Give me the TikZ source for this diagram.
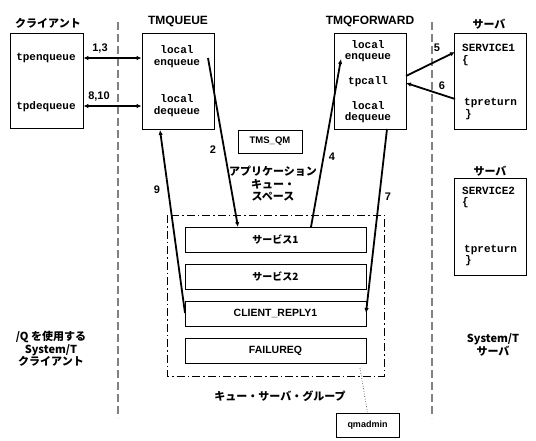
\documentclass[tikz,border=0pt]{standalone}
\usepackage{fontspec}
\setmainfont{Liberation Sans}
\newfontfamily\jpfont{Noto Sans CJK JP}
\newfontfamily\codefont{Liberation Mono}
\usetikzlibrary{arrows.meta}
\begin{document}
\begin{tikzpicture}[x=1pt,y=-1pt,
  box/.style={draw, line width=0.8pt, inner sep=0pt},
  arr/.style={line width=1.8pt, -{Latex[length=5pt,width=4.5pt]}},
  dblarr/.style={line width=1.5pt, {Latex[length=5pt,width=4.5pt]}-{Latex[length=5pt,width=4.5pt]}},
  head/.style={font=\fontsize{12}{14}\selectfont\bfseries, inner sep=0pt},
  jp/.style={font=\jpfont\bfseries\fontsize{11}{12.5}\selectfont, inner sep=0pt, align=center},
  qlab/.style={font=\jpfont\bfseries\fontsize{10}{12}\selectfont, inner sep=0pt},
  qtxt/.style={font=\fontsize{10.5}{12}\selectfont\bfseries, inner sep=0pt},
  code/.style={font=\codefont\bfseries\fontsize{11}{11.5}\selectfont, inner sep=0pt, align=center},
  num/.style={font=\fontsize{11}{12}\selectfont\bfseries, inner sep=0pt},
  sep/.style={gray, line width=1.5pt, dash pattern=on 8pt off 4pt},
  grp/.style={draw, line width=0.7pt, dash pattern=on 8pt off 3pt on 1.5pt off 3pt}
]
\useasboundingbox (0,0) rectangle (536,440);

% separators
\draw[sep] (118,22) -- (118,418);
\draw[sep] (432,22) -- (432,418);

% headers
\node[jp] (hcl) at (48,23) {クライアント};
\node[head] (htmq) at (178,21) {TMQUEUE};
\node[head] (htmf) at (370,21) {TMQFORWARD};
\node[jp] (hsv1) at (489,24) {サーバ};
\node[jp] (hsv2) at (490,171) {サーバ};

% boxes
\node[box, minimum width=73pt, minimum height=95pt] (client) at (46.5,80.5) {};
\node[box, minimum width=72pt, minimum height=96pt] (tmq) at (178,81) {};
\node[box, minimum width=72pt, minimum height=96pt] (tmf) at (370,81) {};
\node[box, minimum width=72pt, minimum height=96pt] (sv1) at (490,81) {};
\node[box, minimum width=72pt, minimum height=97pt] (sv2) at (490,226.5) {};
\node[box, minimum width=64pt, minimum height=23pt, font=\fontsize{9.5}{11}\selectfont\bfseries] (tmsqm) at (270,141.5) {TMS\_QM};

% client texts
\node[code] (tpenq) at (46,57.5) {tpenqueue};
\node[code] (tpdeq) at (46,106.5) {tpdequeue};

% tmqueue texts
\node[code] (tmqenq) at (177,56.5) {local\\enqueue};
\node[code] (tmqdeq) at (177,105.5) {local\\dequeue};

% tmqforward texts
\node[code] (tmfenq) at (368,51) {local\\enqueue};
\node[code] (tmfcall) at (368,82) {tpcall};
\node[code] (tmfdeq) at (368,112) {local\\dequeue};

% server texts
\node[code, anchor=west] (s1a) at (462,48) {SERVICE1};
\node[code, anchor=west] (s1b) at (462,61) {\{};
\node[code, anchor=west] (s1c) at (464,103) {tpreturn};
\node[code, anchor=west] (s1d) at (465,115) {\}};
\node[code, anchor=west] (s2a) at (462,191) {SERVICE2};
\node[code, anchor=west] (s2b) at (462,203) {\{};
\node[code, anchor=west] (s2c) at (464,250) {tpreturn};
\node[code, anchor=west] (s2d) at (465,261) {\}};

% queue group
\draw[grp] (167,215) rectangle (384,376);
\node[box, minimum width=181pt, minimum height=25pt] (q1) at (275.5,239.5) {};
\node[box, minimum width=181pt, minimum height=25pt] (q2) at (275.5,276.5) {};
\node[box, minimum width=181pt, minimum height=25pt] (q3) at (275.5,313.5) {};
\node[box, minimum width=181pt, minimum height=25pt] (q4) at (275.5,350.5) {};
\node[qlab] (q1t) at (q1) {サービス1};
\node[qlab] (q2t) at (q2) {サービス2};
\node[qtxt] (q3t) at (q3) {CLIENT\_REPLY1};
\node[qtxt] (q4t) at (q4) {FAILUREQ};

\node[jp] (aqs) at (273,184) {アプリケーション\\キュー・\\スペース};
\node[jp] (grpl) at (280,396) {キュー・サーバ・グループ};

\node[box, minimum width=63pt, minimum height=24pt, font=\fontsize{9}{11}\selectfont\bfseries] (qmadmin) at (367.5,425) {qmadmin};
\coordinate (dots) at (360,368);
\draw[line width=0.6pt, dotted] (dots) -- (qmadmin.north);

% bottom labels
\node[jp] (qcl) at (51,349) {/Q を使用する\\System/T\\クライアント};
\node[jp] (stsv) at (493,345) {System/T\\サーバ};

% arrows client <-> tmqueue
\draw[dblarr] (client.east |- 0,58) -- (tmq.west |- 0,58);
\draw[dblarr] (client.east |- 0,106) -- (tmq.west |- 0,106);
\node[num] (l13) at (100,49) {1,3};
\node[num] (l810) at (99,97) {8,10};

% coordinates for arrows
\coordinate (a2s) at (208,58);
\coordinate (a2e) at (238,227);
\coordinate (a4s) at (311,227);
\coordinate (a4e) at (341,59);
\coordinate (a7s) at (387,129);
\coordinate (a7e) at (366,313);
\coordinate (a9s) at (185,313);
\coordinate (a9e) at (160,130);
\coordinate (a5s) at (406,76);
\coordinate (a5e) at (455,52);
\coordinate (a6s) at (455,99);
\coordinate (a6e) at (406,83);

\draw[arr] (a2s) -- (a2e);
\draw[arr] (a4s) -- (a4e);
\draw[arr] (a7s) -- (a7e);
\draw[arr] (a9s) -- (a9e);
\draw[arr] (a5s) -- (a5e);
\draw[arr] (a6s) -- (a6e);

\node[num] (l2) at (213,150) {2};
\node[num] (l4) at (332,157) {4};
\node[num] (l7) at (388,197) {7};
\node[num] (l9) at (157,190) {9};
\node[num] (l5) at (437,48) {5};
\node[num] (l6) at (442,86) {6};
\end{tikzpicture}
\end{document}
